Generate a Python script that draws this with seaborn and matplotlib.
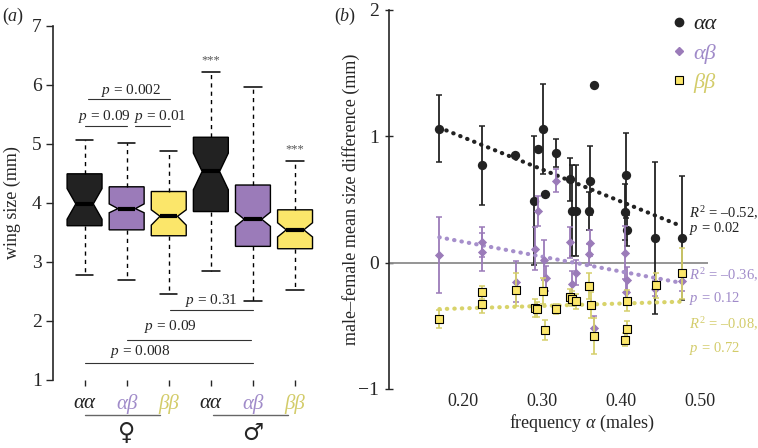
import numpy as np
import pandas as pd
import matplotlib
matplotlib.use("Agg")
import matplotlib.pyplot as plt
import seaborn as sns
from matplotlib.lines import Line2D

# ---- panel (a): wing size box summaries ----
box_labels = ["αα", "αβ", "ββ", "αα", "αβ", "ββ"]
whis_lo = [2.77, 2.69, 2.45, 2.85, 2.34, 2.52]
q1 = [3.61, 3.54, 3.44, 3.85, 3.26, 3.22]
medians = [3.98, 3.90, 3.77, 4.53, 3.72, 3.54]
q3 = [4.49, 4.27, 4.19, 5.11, 4.30, 3.88]
whis_hi = [5.07, 5.02, 4.88, 6.21, 5.96, 4.71]
ci_lo = [3.72, 3.83, 3.62, 4.22, 3.60, 3.42]
ci_hi = [4.24, 3.98, 3.88, 4.84, 3.84, 3.66]
signif = ["", "", "", "***", "", "***"]

# ---- panel (b): male-female size difference vs frequency of alpha ----
aa_freq = [0.170, 0.224, 0.266, 0.290, 0.2945, 0.301, 0.304, 0.318, 0.335, 0.338,
           0.343, 0.359, 0.361, 0.366, 0.406, 0.405, 0.408, 0.443, 0.477]
aa_diff = [1.06, 0.77, 0.85, 0.49, 0.90, 1.06, 0.54, 0.87, 0.66, 0.41,
           0.41, 0.41, 0.65, 1.41, 0.69, 0.40, 0.255, 0.195, 0.195]
aa_err = [0.265, 0.31, 0, 0.51, 0, 0.355, 0, 0.11, 0.17, 0.36,
          0.36, 0.15, 0.27, 0, 0.34, 0.22, 0.12, 0.6, 0.49]

ab_freq = [0.170, 0.224, 0.224, 0.267, 0.291, 0.2945, 0.302, 0.305, 0.318, 0.335,
           0.338, 0.343, 0.359, 0.361, 0.366, 0.405, 0.408, 0.406, 0.443, 0.477]
ab_diff = [0.06, 0.165, 0.085, -0.15, 0.11, 0.41, 0.02, -0.125, 0.65, 0.16,
           -0.165, -0.08, 0.065, 0.155, -0.515, 0.08, -0.135, -0.235, -0.205, -0.145]
ab_err = [0.30, 0.12, 0.15, 0.16, 0.17, 0.12, 0.16, 0.10, 0.09, 0.12,
          0.10, 0.10, 0.08, 0.10, 0.09, 0.21, 0.10, 0.10, 0.06, 0.08]

bb_freq = [0.170, 0.224, 0.224, 0.267, 0.291, 0.294, 0.301, 0.304, 0.318, 0.335,
           0.3375, 0.343, 0.359, 0.3615, 0.366, 0.408, 0.407, 0.405, 0.444, 0.477]
bb_diff = [-0.445, -0.235, -0.325, -0.215, -0.36, -0.37, -0.225, -0.53, -0.365, -0.27,
           -0.285, -0.305, -0.185, -0.335, -0.58, -0.30, -0.525, -0.61, -0.18, -0.085]
bb_err = [0.07, 0.05, 0.07, 0.13, 0.07, 0.06, 0.10, 0.08, 0.04, 0.06,
          0.06, 0.06, 0.10, 0.10, 0.14, 0.08, 0.06, 0.05, 0.10, 0.20]

fit_text = [(r"$R^2\,=\,$–0.52,", r"$p\,=\,$0.02"),
            (r"$R^2\,=\,$–0.36,", r"$p\,=\,$0.12"),
            (r"$R^2\,=\,$–0.08,", r"$p\,=\,$0.72")]

# colours
BLACK = "#222222"
PURPLE = "#9b7bb9"
YELLOW = "#fbe66a"
PURPLE_TXT = "#a08bc9"
YELLOW_TXT = "#d3cc6a"
box_fill = [BLACK, PURPLE, YELLOW, BLACK, PURPLE, YELLOW]
label_col = [BLACK, PURPLE_TXT, YELLOW_TXT, BLACK, PURPLE_TXT, YELLOW_TXT]

sns.set_style("ticks")
plt.rcParams["font.family"] = ["Liberation Serif", "DejaVu Serif", "DejaVu Sans"]
plt.rcParams["mathtext.fontset"] = "custom"
plt.rcParams["mathtext.rm"] = "Liberation Serif"
plt.rcParams["mathtext.it"] = "Liberation Serif:italic"

fig = plt.figure(figsize=(7.58, 4.48), dpi=100)
ax1 = fig.add_axes([0.0699, 0.1525, 0.361, 0.790])
ax2 = fig.add_axes([0.5132, 0.1317, 0.4207, 0.846])

# ---------------- panel (a) ----------------
stats = []
for i in range(6):
    stats.append(dict(label=box_labels[i], whislo=whis_lo[i], q1=q1[i], med=medians[i],
                      q3=q3[i], whishi=whis_hi[i], cilo=ci_lo[i], cihi=ci_hi[i], fliers=[]))
pos = np.arange(1, 7)
bp = ax1.bxp(stats, positions=pos, widths=0.83, shownotches=True, patch_artist=True,
             showfliers=False,
             boxprops=dict(edgecolor="black", linewidth=1),
             medianprops=dict(color="black", linewidth=3),
             whiskerprops=dict(color="black", linewidth=1, linestyle=(0, (3, 3))),
             capprops=dict(color="black", linewidth=1.1))
for patch, c in zip(bp["boxes"], box_fill):
    patch.set_facecolor(c)

for x, top, s in zip(pos, whis_hi, signif):
    if s:
        ax1.text(x, top + 0.2, s, ha="center", va="center", fontsize=9, color="#555555")

# pairwise comparisons: (x0, x1, line y, text x, text y, label)
brackets = [(1.07, 3.04, 5.75, 2.11, 5.91, "$p$ = 0.002"),
            (1.02, 2.01, 5.305, 1.46, 5.47, "$p$ = 0.09"),
            (2.21, 3.02, 5.305, 2.80, 5.47, "$p$ = 0.01"),
            (3.02, 5.00, 2.176, 4.00, 2.34, "$p$ = 0.31"),
            (2.01, 4.96, 1.678, 3.04, 1.90, "$p$ = 0.09"),
            (1.00, 5.00, 1.278, 2.33, 1.47, "$p$ = 0.008")]
for x0, x1, y, tx, ty, lab in brackets:
    ax1.plot([x0, x1], [y, y], color="#333333", lw=0.8)
    ax1.text(tx, ty, lab, ha="center", va="center", fontsize=11)

ax1.set_xlim(0.25, 6.75)
ax1.set_ylim(1, 7)
ax1.set_yticks([1, 2, 3, 4, 5, 6, 7])
ax1.set_xticks(pos)
ax1.set_xticklabels(box_labels, fontsize=15, style="italic")
for t, c in zip(ax1.get_xticklabels(), label_col):
    t.set_color(c)
ax1.tick_params(axis="y", labelsize=14, length=5, width=1, pad=3)
ax1.tick_params(axis="x", length=4, width=1, pad=6)
for sp in ["top", "right", "bottom"]:
    ax1.spines[sp].set_visible(False)
ax1.spines["left"].set_linewidth(1.2)
ax1.set_ylabel("wing size (mm)", fontsize=13)
ax1.yaxis.set_label_coords(-0.118, 0.5)

trans = ax1.get_xaxis_transform()
ax1.plot([1.0, 2.8], [-0.1, -0.1], color="#666666", lw=1, transform=trans, clip_on=False)
ax1.plot([4.06, 5.84], [-0.1, -0.1], color="#666666", lw=1, transform=trans, clip_on=False)
ax1.text(2, -0.15, "♀", transform=trans, ha="center", va="center", fontsize=17,
         family=["DejaVu Sans"])
ax1.text(5, -0.15, "♂", transform=trans, ha="center", va="center", fontsize=17,
         family=["DejaVu Sans"])

# ---------------- panel (b) ----------------
series = [
    (pd.DataFrame({"freq": aa_freq, "diff": aa_diff, "err": aa_err}), BLACK, BLACK, "o", 45, BLACK, 0),
    (pd.DataFrame({"freq": ab_freq, "diff": ab_diff, "err": ab_err}), PURPLE, "#a68fcb", "D", 22, PURPLE, 0),
    (pd.DataFrame({"freq": bb_freq, "diff": bb_diff, "err": bb_err}), "#d6d06c", "#d8d36a", "s", 40, YELLOW, 0.8),
]

ax2.axhline(0, color="#8c8c8c", lw=1.3, zorder=1)

for k, (df, ecol, lcol, mk, ms, fcol, elw) in enumerate(series):
    has_err = df[df["err"] > 0]
    ax2.errorbar(has_err["freq"], has_err["diff"], yerr=has_err["err"], fmt="none",
                 ecolor=ecol, elinewidth=1.3, capsize=2, capthick=1.1, zorder=2 + k)
    sns.regplot(data=df, x="freq", y="diff", ax=ax2, scatter=False, ci=None,
                truncate=True, color=lcol,
                line_kws=dict(lw=3, linestyle=(0, (0.1, 1.7)), dash_capstyle="round", zorder=2.5 + k))
    sns.scatterplot(data=df, x="freq", y="diff", ax=ax2, marker=mk, s=ms, color=fcol,
                    edgecolor="black" if elw else fcol, linewidth=elw, zorder=3 + k, legend=False)

ax2.set_xlim(0.1063, 0.51)
ax2.set_ylim(-1, 2)
ax2.set_yticks([-1, 0, 1, 2])
ax2.set_xticks([0.2, 0.3, 0.4, 0.5])
ax2.set_xticklabels(["0.20", "0.30", "0.40", "0.50"])
ax2.tick_params(axis="y", labelsize=14, direction="inout", length=6, width=1, pad=4)
ax2.tick_params(axis="x", labelsize=13, length=0, pad=3)
for sp in ["top", "right", "bottom"]:
    ax2.spines[sp].set_visible(False)
ax2.spines["left"].set_linewidth(1.2)
ax2.set_xlabel("frequency $\\alpha$ (males)", fontsize=13)
ax2.xaxis.set_label_coords(0.604, -0.062)
ax2.set_ylabel("male–female mean size difference (mm)", fontsize=13)
ax2.yaxis.set_label_coords(-0.092, 0.5)

txt_cols = [BLACK, PURPLE_TXT, YELLOW_TXT]
txt_y = [(0.395, 0.269), (-0.103, -0.285), (-0.49, -0.68)]
for (l1, l2), c, (y1, y2) in zip(fit_text, txt_cols, txt_y):
    ax2.text(0.486, y1, l1, color=c, fontsize=10.5, va="center", clip_on=False)
    ax2.text(0.486, y2, l2, color=c, fontsize=10.5, va="center", clip_on=False)

handles = [Line2D([], [], ls="", marker="o", color=BLACK, markersize=6),
           Line2D([], [], ls="", marker="D", color=PURPLE, markersize=4.5),
           Line2D([], [], ls="", marker="s", markerfacecolor=YELLOW, markeredgecolor="black",
                  markeredgewidth=0.8, markersize=6)]
leg = ax2.legend(handles, ["αα", "αβ", "ββ"], loc="upper left", bbox_to_anchor=(0.885, 0.99),
                 frameon=False, handlelength=0.7, handletextpad=0.3, borderpad=0,
                 borderaxespad=0, labelspacing=0.4, prop=dict(style="italic", size=16))
for t, c in zip(leg.get_texts(), txt_cols):
    t.set_color(c)

fig.text(0.002, 0.963, "($a$)", fontsize=13, va="center")
fig.text(0.441, 0.963, "($b$)", fontsize=13, va="center")

fig.savefig("out.png", dpi=100)
